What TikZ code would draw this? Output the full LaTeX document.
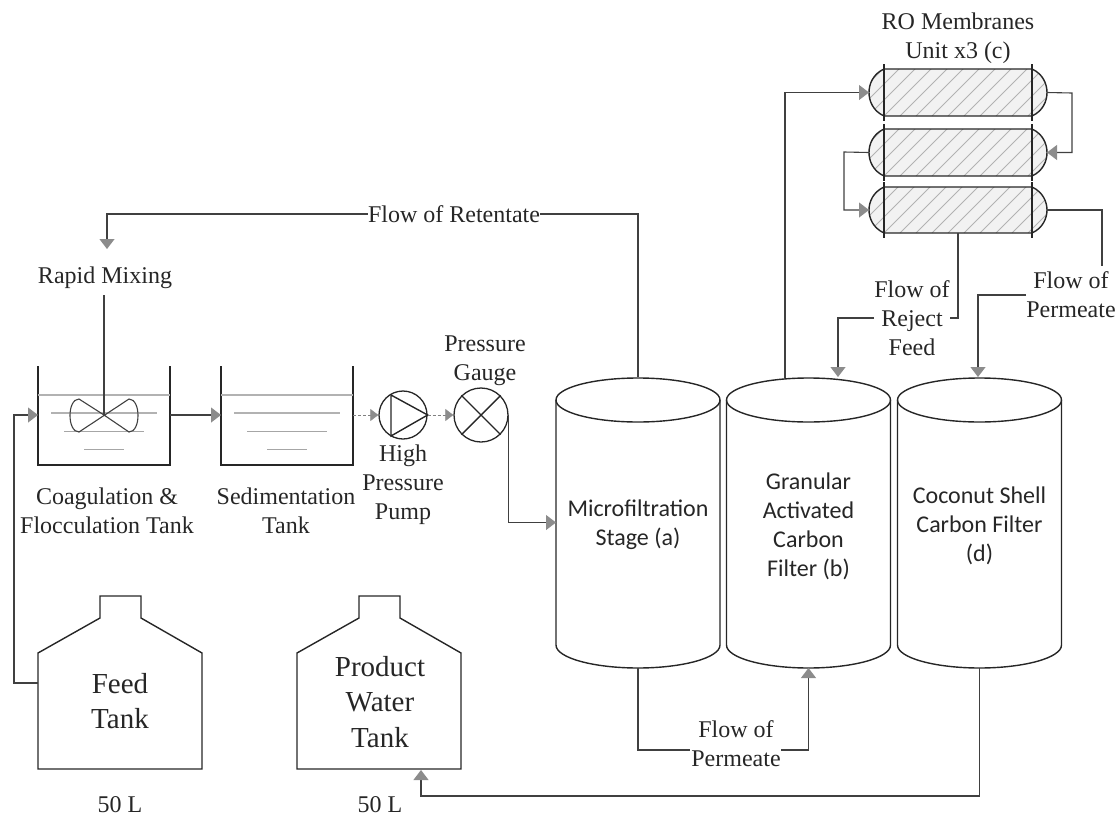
\documentclass[tikz,border=0pt]{standalone}
\usepackage{fontspec}
\setmainfont{Liberation Serif}
\newfontfamily\cylfont{Carlito}
\usetikzlibrary{arrows.meta}

\tikzset{
pipe/.style={draw=black!75, line width=1.1pt},
flow/.style={pipe, -{Triangle[length=10pt,width=15pt,fill=black!45,color=black!45]}},
thinflow/.style={draw=black!50, line width=.6pt, densely dashed, -{Triangle[length=8pt,width=12pt,fill=black!45,color=black!45]}},
lab/.style={align=center, font=\fontsize{24}{29}\selectfont, inner sep=0pt, text=black!85},
bigtank/.style={align=center, font=\fontsize{29}{35.5}\selectfont, inner sep=0pt, text=black!85},
cyl/.style={minimum width=164pt, minimum height=291pt, inner sep=0pt, outer sep=0pt},
cyltext/.style={align=center, inner sep=0pt, font=\cylfont\fontsize{24}{29}\selectfont, text=black!85},
unit/.style={draw=black!85, line width=1.4pt},
water/.style={draw=black!30, line width=1.1pt},
settle/.style={draw=black!35, line width=.9pt},
}

\begin{document}
\begin{tikzpicture}[x=1pt,y=-1pt]
\useasboundingbox (0,0) rectangle (1120,817);

% cylinders
\foreach \cx in {638,808.5,979.5}{
\draw[unit] (\cx,400) ellipse [x radius=82, y radius=22];
\draw[unit] (\cx-82,400) -- (\cx-82,645) .. controls (\cx-82,658) and (\cx-44,668) .. (\cx,668)
 .. controls (\cx+44,668) and (\cx+82,658) .. (\cx+82,645) -- (\cx+82,400);
}
\node[cyl] (mf) at (638,522.5){};
\node[cyl] (gac) at (808.5,522.5){};
\node[cyl] (csc) at (979.5,522.5){};
\node[cyltext] (mftext) at (638,524.5){Microfiltration\\Stage (a)};
\node[cyltext] (gactext) at (808.5,526.5){Granular\\Activated\\Carbon\\Filter (b)};
\node[cyltext] (csctext) at (979.5,525.5){Coconut Shell\\Carbon Filter\\(d)};
\coordinate (gacout) at (785,378);
\coordinate (gacin) at (838,377);
\coordinate (cscin) at (978,377);

% membranes
\foreach \name/\ytop/\ybot in {roa/69/116,rob/129/176,roc/187/233}{
\begin{scope}
\clip (884,\ytop) .. controls (873,\ytop+5) and (869,\ytop+15) .. (869,\ytop/2+\ybot/2)
 .. controls (869,\ybot-15) and (873,\ybot-5) .. (884,\ybot) -- (1032,\ybot)
 .. controls (1043,\ybot-5) and (1047,\ybot-15) .. (1047,\ytop/2+\ybot/2)
 .. controls (1047,\ytop+15) and (1043,\ytop+5) .. (1032,\ytop) -- cycle;
\fill[black!5] (869,\ytop) rectangle (1047,\ybot);
\foreach \hx in {820,836,...,1060}{
\draw[draw=black!30, line width=1pt] (\hx,\ybot) -- (\hx+60,\ybot-60);
}
\end{scope}
\draw[unit] (884,\ytop) .. controls (873,\ytop+5) and (869,\ytop+15) .. (869,\ytop/2+\ybot/2)
 .. controls (869,\ybot-15) and (873,\ybot-5) .. (884,\ybot) -- (1032,\ybot)
 .. controls (1043,\ybot-5) and (1047,\ybot-15) .. (1047,\ytop/2+\ybot/2)
 .. controls (1047,\ytop+15) and (1043,\ytop+5) .. (1032,\ytop) -- cycle;
\draw[unit] (884,\ytop-5) -- (884,\ybot+5);
\draw[unit] (1032,\ytop-5) -- (1032,\ybot+5);
\coordinate (\name l) at (869,\ytop/2+\ybot/2);
\coordinate (\name r) at (1047,\ytop/2+\ybot/2);
}
\coordinate (rocb) at (958,233);
\node[lab] (rolab) at (958,38){RO Membranes\\Unit x3 (c)};

% mixing tanks
\draw[unit] (38,366) |- (170,465) -- (170,366);
\draw[unit] (221,366) |- (353,465) -- (353,366);
\coordinate (cfl) at (38,415);
\coordinate (cfr) at (170,415);
\coordinate (sedl) at (221,415);
\coordinate (sedr) at (353,415);
\foreach \dx in {0,183}{
\draw[water] (38+\dx,395) -- (170+\dx,395);
\draw[water] (51+\dx,413) -- (157+\dx,413);
\draw[settle] (64+\dx,431) -- (144+\dx,431);
\draw[settle] (84+\dx,449) -- (124+\dx,449);
}
\draw[pipe] (104,295) -- (104,415);
\draw[pipe] (104,415) -- (79,399) .. controls (67,399) and (67,432) .. (79,432) -- (129,399)
 .. controls (141,399) and (141,432) .. (129,432) -- cycle;
\node[lab] (rapid) at (105,278){Rapid Mixing};
\node[lab] (cflab) at (107,511){Coagulation \&\\Flocculation Tank};
\node[lab] (sedlab) at (286,511){Sedimentation\\Tank};

% pump and gauge
\node[circle,draw=black!85,line width=1.3pt,minimum size=48pt,inner sep=0pt] (pump) at (403,415){};
\draw[unit] (391,395) -- (391,436) -- (pump.east) -- cycle;
\node[circle,draw=black!85,line width=1.3pt,minimum size=54pt,inner sep=0pt] (gauge) at (481,415){};
\draw[unit] (gauge.north west) -- (gauge.south east);
\draw[unit] (gauge.north east) -- (gauge.south west);
\node[lab] (pumplab) at (403,485){High\\Pressure\\Pump};
\node[lab] (gaugelab) at (485,361){Pressure\\Gauge};

% storage tanks
\node[bigtank] (feed) at (120,701){Feed\\Tank};
\node[bigtank] (prod) at (380,702){Product\\Water\\Tank};
\draw[unit] (38,653) -- (100,618) -- (100,596) -- (141,596) -- (141,618) -- (202,653) -- (202,769) -- (38,769) -- cycle;
\draw[unit] (297,653) -- (359,618) -- (359,596) -- (400,596) -- (400,618) -- (461,653) -- (461,769) -- (297,769) -- cycle;
\coordinate (feedl) at (38,683);
\coordinate (prodb) at (421,770);
\coordinate (prodlow) at (421,796);
\node[lab] (feedvol) at (120,805){50 L};
\node[lab] (prodvol) at (380,805){50 L};

% flows
\node[lab] (retlab) at (454,214){Flow of Retentate};
\draw[pipe] (mf.north) |- (retlab.east);
\draw[flow] (retlab.west) -| (107,249);
\draw[flow] (feedl) -- (14,683) |- (cfl);
\draw[flow] (cfr) -- (sedl);
\draw[thinflow] (sedr) -- (pump.west);
\draw[thinflow] (pump.east) -- (gauge.west);
\draw[flow] (gauge.east) |- (mf.west);
\node[lab] (permlab) at (736,744){Flow of\\Permeate};
\coordinate (permin) at (690,750);
\coordinate (permout) at (781,750);
\draw[pipe] (mf.south) |- (permin);
\draw[flow] (permout) -| (gac.south);
\draw[flow] (csc.south) |- (prodlow) -- (prodb);
\draw[flow] (gacout) |- (roal);
\draw[flow] (roar) -- (1072,93) |- (robr);
\draw[flow] (robl) -- (844,152) |- (rocl);
\node[lab] (rejlab) at (912,318){Flow of\\Reject\\Feed};
\node[lab] (pmlab) at (1071,295){Flow of\\Permeate};
\coordinate (pmtop) at (1102,266);
\draw[pipe] (rocb) |- (rejlab.east);
\draw[flow] (rejlab.west) -| (gacin);
\draw[pipe] (rocr) -| (pmtop);
\draw[flow] (pmlab.west) -| (cscin);
\end{tikzpicture}
\end{document}
